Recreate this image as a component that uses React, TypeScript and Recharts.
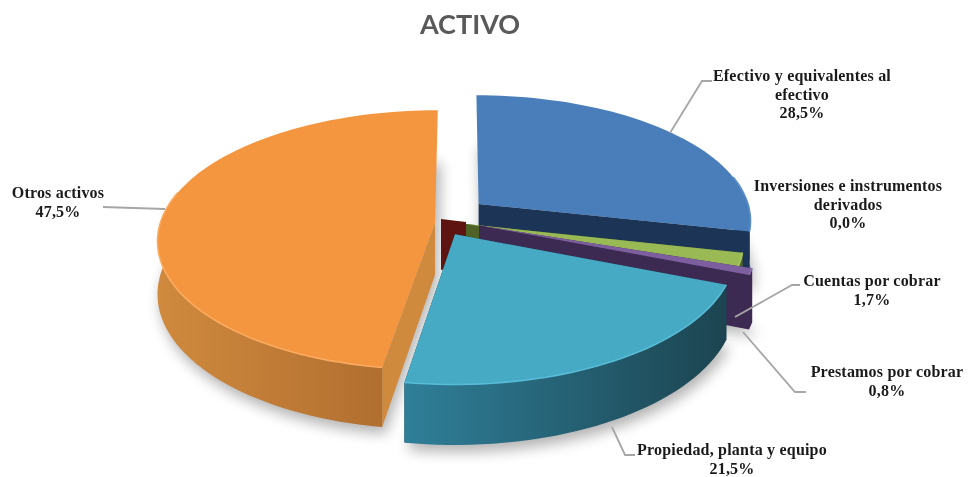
import React from "react";
import { PieChart, Pie } from "recharts";

// ---- data ----
const categories = [
  "Efectivo y equivalentes al\nefectivo",
  "Inversiones e instrumentos\nderivados",
  "Cuentas por cobrar",
  "Prestamos por cobrar",
  "Propiedad, planta y equipo",
  "Otros activos",
];
const shares = [28.5, 0.0, 1.7, 0.8, 21.5, 47.5];
const title = "ACTIVO";
const rows = categories.map((name, i) => ({ name, value: shares[i] }));

// ---- styles and layout, by slice ----
const topColors = ["#4a7ebb", "#8f1f1c", "#98b954", "#7d5fa0", "#46aac5", "#f4953f"];
const rimColors = ["#5b8fcc", "#8f1f1c", "#a8c864", "#8d6fb0", "#58bcd6", "#fbab5f"];
const wallLeft = ["#1c3557", "#5e1512", "#4f6228", "#3c2a52", "#2f7f99", "#d08a3e"];
const wallRight = ["#1c3557", "#5e1512", "#4f6228", "#3c2a52", "#1c4450", "#a9682c"];
const cutColors = ["#1c3557", "#5e1512", "#4f6228", "#3c2a52", "#1c4450", "#d08a3e"];
const offsets = [
  [20, 44],
  [0, 0],
  [7, 0],
  [20, -3],
  [-4, -22],
  [-24, 2],
];
const labelLayout = [
  { x: 802, y: 81, line: [[670, 133], [702, 81], [712, 81]] },
  { x: 848, y: 191, line: null },
  { x: 872, y: 286, line: [[735, 317], [792, 285], [800, 285]] },
  { x: 887, y: 377, line: [[743, 332], [795, 392], [806, 392]] },
  { x: 732, y: 455, line: [[612, 427], [625, 455], [635, 455]] },
  { x: 58, y: 198, line: [[103, 207], [165, 209]] },
];

const PERSP = 2115;
const TILT = 0.4645;
const DEPTH = 52;
const LINE_H = 18.6;

const project = (cx: number, cy: number, X: number, Y: number, z = 0) => {
  const s = 1 / (1 + Y / PERSP);
  return [cx + X * s, cy - Y * TILT * s + z * s];
};
const toPath = (pts: number[][], close = true) =>
  pts.map((p, i) => `${i ? "L" : "M"}${p[0].toFixed(1)},${p[1].toFixed(1)}`).join(" ") + (close ? " Z" : "");

function sliceGeometry(props: any) {
  const { cx, cy, outerRadius: R, startAngle, endAngle, name } = props;
  const i = categories.indexOf(name);
  const [ox, oy] = offsets[i];
  const t0 = 90 - startAngle;
  const t1 = 90 - endAngle;
  const n = Math.max(1, Math.ceil(Math.abs(t1 - t0) / 2));
  const at = (t: number, z = 0) => {
    const a = (t * Math.PI) / 180;
    return project(cx, cy, ox + R * Math.sin(a), oy + R * Math.cos(a), z);
  };
  const rim: number[][] = [];
  const low: number[][] = [];
  const near: number[][] = [];
  const nearLow: number[][] = [];
  for (let k = 0; k <= n; k++) {
    const t = t0 + ((t1 - t0) * k) / n;
    rim.push(at(t));
    low.push(at(t, DEPTH));
    if (Math.cos((t * Math.PI) / 180) < 0.25) {
      near.push(at(t));
      nearLow.push(at(t, DEPTH));
    }
  }
  const apex = project(cx, cy, ox, oy);
  const apexLow = project(cx, cy, ox, oy, DEPTH);
  return { i, t0, t1, rim, low, near, nearLow, apex, apexLow, cx, cy };
}

function ShadowShape(props: any) {
  const g = sliceGeometry(props);
  if (g.t1 - g.t0 < 0.01) return <g />;
  const d = toPath([g.apexLow, ...g.low]);
  return <path d={d} fill="#000" opacity={0.3} transform="translate(3,7)" filter="url(#softShadow)" />;
}

const facesAway = (t: number) => Math.cos((t * Math.PI) / 180) > 0.9;

function SliceShape(props: any) {
  const g = sliceGeometry(props);
  const { i, t0, t1, rim, low, near, nearLow, apex, apexLow, cx, cy } = g;
  if (t1 - t0 < 0.01) {
    // the empty slice only shows its dark wall at the centre
    const pts = [[cx - 18, cy - 5], [cx + 7, cy - 2], [cx + 7, cy + 40], [cx - 18, cy + 46]];
    return <path d={toPath(pts)} fill={cutColors[i]} />;
  }
  const xs = rim.map((p) => p[0]);
  const gid = `wall${i}`;
  return (
    <g>
      <defs>
        <linearGradient id={gid} gradientUnits="userSpaceOnUse" x1={Math.min(...xs)} x2={Math.max(...xs)} y1={0} y2={0}>
          <stop offset="0%" stopColor={wallLeft[i]} />
          <stop offset="100%" stopColor={wallRight[i]} />
        </linearGradient>
      </defs>
      {!facesAway(t0) && <path d={toPath([apex, rim[0], low[0], apexLow])} fill={cutColors[i]} />}
      {!facesAway(t1) && <path d={toPath([apex, rim[rim.length - 1], low[low.length - 1], apexLow])} fill={cutColors[i]} />}
      {near.length > 1 && <path d={toPath([...near, ...[...nearLow].reverse()])} fill={`url(#${gid})`} />}
      <path d={toPath([apex, ...rim])} fill={topColors[i]} />
      {near.length > 1 && <path d={toPath(near, false)} fill="none" stroke={rimColors[i]} strokeWidth={1.6} />}
    </g>
  );
}

function SliceLabel(props: any) {
  const i = categories.indexOf(props.name);
  const layout = labelLayout[i];
  const lines = [...categories[i].split("\n"), `${shares[i].toFixed(1).replace(".", ",")}%`];
  return (
    <g>
      {layout.line && (
        <polyline
          points={layout.line.map((p) => p.join(",")).join(" ")}
          fill="none"
          stroke="#a6a6a6"
          strokeWidth={1.8}
        />
      )}
      <text
        x={layout.x}
        y={layout.y}
        textAnchor="middle"
        fontFamily="'Liberation Serif', serif"
        fontWeight={700}
        fontSize={16}
        letterSpacing={0.2}
        fill="#1a1a1a"
      >
        {lines.map((l, k) => (
          <tspan key={k} x={layout.x} y={layout.y + k * LINE_H}>
            {l}
          </tspan>
        ))}
      </text>
    </g>
  );
}

const pieProps = {
  data: rows,
  dataKey: "value",
  nameKey: "name",
  cx: 459,
  cy: 224,
  innerRadius: 0,
  outerRadius: 275,
  startAngle: 90,
  endAngle: -270,
  stroke: "none",
  isAnimationActive: false,
  labelLine: false,
};

export default function App() {
  return (
    <div style={{ position: "absolute", left: 0, top: 0, width: 968, height: 477, background: "#fff", filter: "blur(0.5px)" }}>
      <PieChart width={968} height={477} margin={{ top: 0, right: 0, bottom: 0, left: 0 }}>
        <defs>
          <filter id="softShadow" x="-20%" y="-20%" width="140%" height="140%">
            <feGaussianBlur stdDeviation="7" />
          </filter>
        </defs>
        <text x={470} y={34} textAnchor="middle" fontFamily="Lato, sans-serif" fontWeight={700} fontSize={27} fill="#595959">
          {title}
        </text>
        <Pie {...pieProps} shape={ShadowShape} label={false} />
        <Pie {...pieProps} shape={SliceShape} label={SliceLabel} />
      </PieChart>
    </div>
  );
}
